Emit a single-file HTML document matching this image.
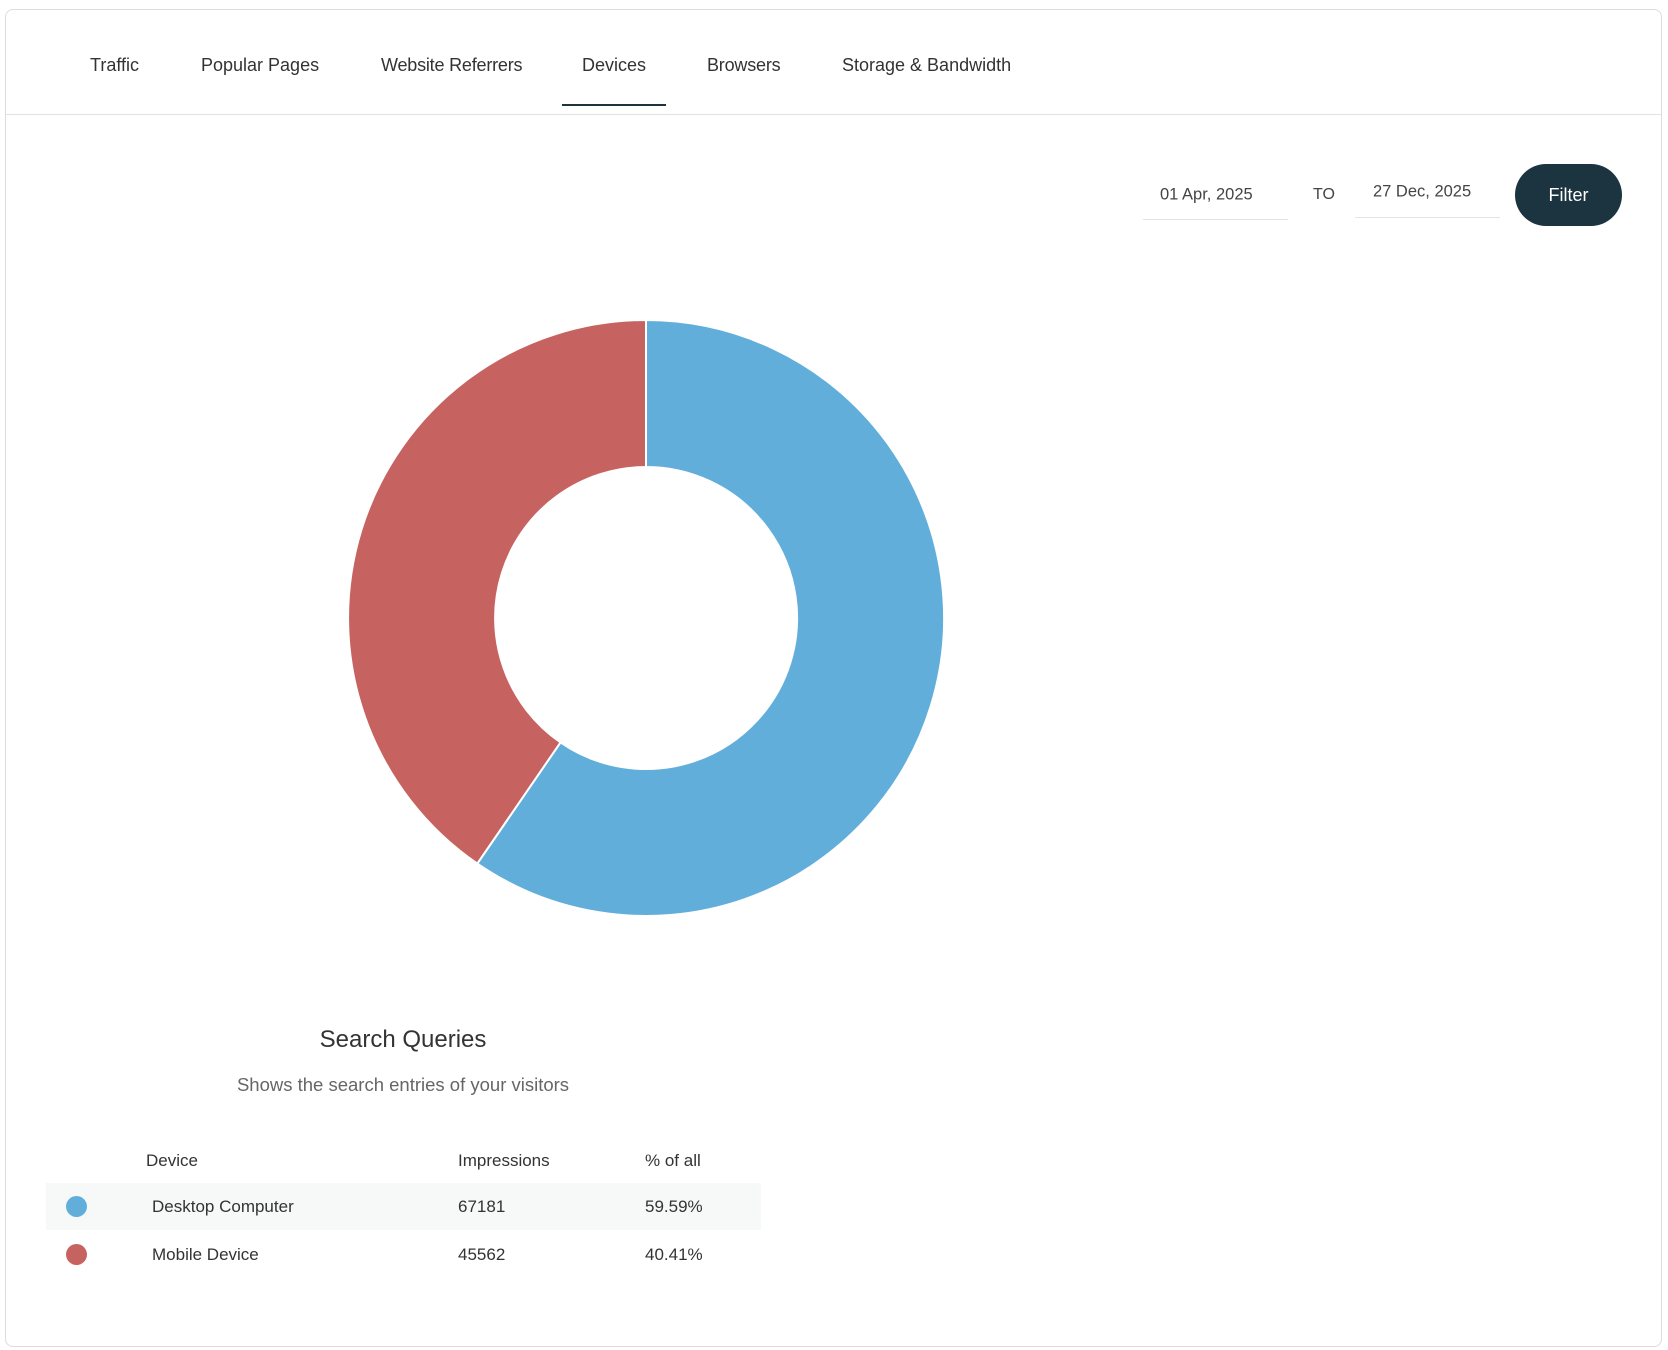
<!DOCTYPE html>
<html><head><meta charset="utf-8"><style>
body{margin:0;width:1668px;height:1350px;background:#fff;font-family:"Liberation Sans",sans-serif;color:#333;position:relative;overflow:hidden}
.a{position:absolute;white-space:nowrap}
.card{position:absolute;left:5px;top:9px;width:1655px;height:1336px;border:1px solid #dcdcdc;border-radius:8px}
.tab{position:absolute;top:55px;font-size:18px;color:#333}
.t{font-size:17px;color:#333;transform:translateY(-50%)}
</style></head><body>
<div class="card"></div>
<div class="a" style="left:6px;top:114px;width:1655px;height:1px;background:#e2e2e2"></div>
<div class="tab" style="left:90px">Traffic</div>
<div class="tab" style="left:201px">Popular Pages</div>
<div class="tab" style="left:381px;letter-spacing:-0.2px">Website Referrers</div>
<div class="tab" style="left:582px">Devices</div>
<div class="tab" style="left:707px;letter-spacing:-0.2px">Browsers</div>
<div class="tab" style="left:842px">Storage &amp; Bandwidth</div>
<div class="a" style="left:562px;top:104px;width:104px;height:2px;background:#1b3440"></div>
<div class="a" style="left:1143px;top:219px;width:145px;height:1px;background:#e4e4e4"></div>
<div class="a t" style="left:1160px;top:195px;font-size:16.5px;color:#444">01 Apr, 2025</div>
<div class="a t" style="left:1313px;top:195px;font-size:16px;color:#444">TO</div>
<div class="a" style="left:1355px;top:217px;width:145px;height:1px;background:#e4e4e4"></div>
<div class="a t" style="left:1373px;top:192px;font-size:16.5px;color:#444">27 Dec, 2025</div>
<div class="a" style="left:1515px;top:164px;width:107px;height:62px;border-radius:31px;background:#1b3440;color:#fff;font-size:18px;line-height:62px;text-align:center">Filter</div>
<svg class="a" style="left:0;top:0" width="1668" height="1350">
<path d="M646,320 A298,298 0 1 1 477.3,863.6 L560.5,742.4 A151,151 0 1 0 646,467 Z" fill="#62aedb" stroke="#fff" stroke-width="2"/>
<path d="M477.3,863.6 A298,298 0 0 1 646,320 L646,467 A151,151 0 0 0 560.5,742.4 Z" fill="#c66360" stroke="#fff" stroke-width="2"/>
</svg>
<div class="a t" style="left:403px;top:1040px;font-size:24px;transform:translate(-50%,-50%)">Search Queries</div>
<div class="a t" style="left:403px;top:1085px;font-size:18.5px;color:#666;transform:translate(-50%,-50%)">Shows the search entries of your visitors</div>
<div class="a t" style="left:146px;top:1161px">Device</div>
<div class="a t" style="left:458px;top:1161px">Impressions</div>
<div class="a t" style="left:645px;top:1161px">% of all</div>
<div class="a" style="left:46px;top:1183px;width:715px;height:47px;background:#f7f8f8"></div>
<div class="a" style="left:66px;top:1196px;width:21px;height:21px;border-radius:50%;background:#62aedb"></div>
<div class="a t" style="left:152px;top:1207px">Desktop Computer</div>
<div class="a t" style="left:458px;top:1207px">67181</div>
<div class="a t" style="left:645px;top:1207px">59.59%</div>
<div class="a" style="left:66px;top:1244px;width:21px;height:21px;border-radius:50%;background:#c66360"></div>
<div class="a t" style="left:152px;top:1255px">Mobile Device</div>
<div class="a t" style="left:458px;top:1255px">45562</div>
<div class="a t" style="left:645px;top:1255px">40.41%</div>
</body></html>
